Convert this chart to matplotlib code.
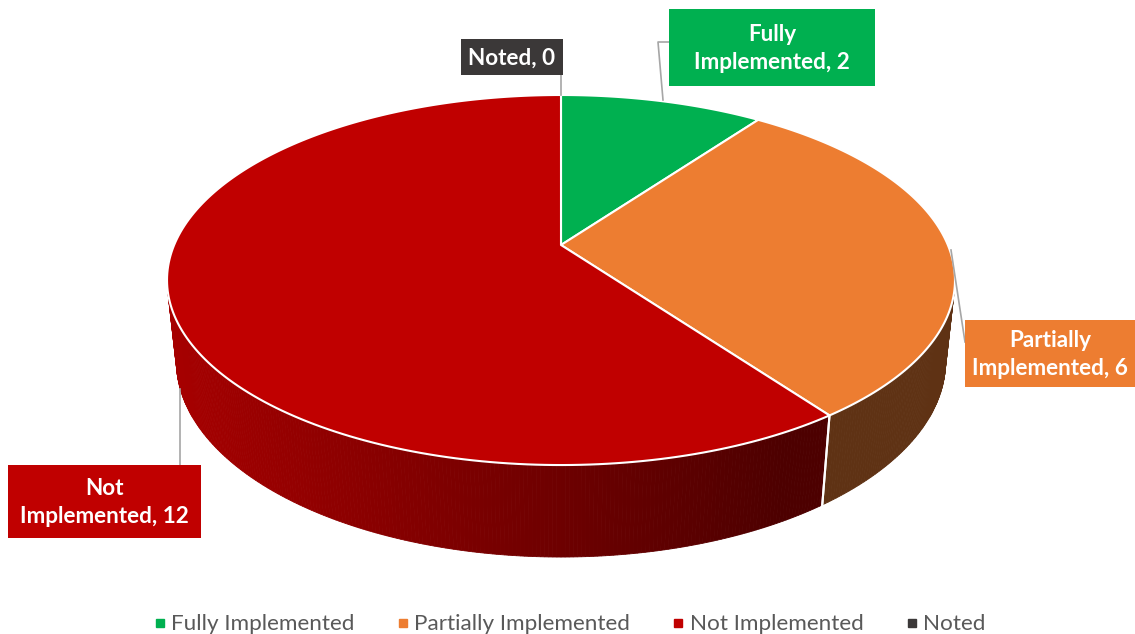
import numpy as np
import matplotlib
matplotlib.use('Agg')
import matplotlib.pyplot as plt
from matplotlib.patches import Polygon, Rectangle
from matplotlib.lines import Line2D
from matplotlib.colors import to_rgb

categories = ['Fully Implemented', 'Partially Implemented', 'Not Implemented', 'Noted']
values = [2, 6, 12, 0]
colors = ['#00B050', '#ED7D31', '#C00000', '#3B3838']
label_lines = ['Fully\nImplemented, {}', 'Partially\nImplemented, {}',
               'Not\nImplemented, {}', 'Noted, {}']

plt.rcParams['font.family'] = ['Lato', 'DejaVu Sans']

W, H = 1135, 634
fig = plt.figure(figsize=(W / 100, H / 100), dpi=100)
ax = fig.add_axes([0, 0, 1, 1])
ax.set_xlim(0, W)
ax.set_ylim(H, 0)
ax.axis('off')

# perspective projection of a flat cylinder
CX, CY = 561, 245
F = 1813.6
D = 4.688
phi = np.radians(27.46)
T = 0.2386
c, s = np.cos(phi), np.sin(phi)


def proj(theta, r=1.0, h=0.0):
    u = r * np.sin(theta)
    v = r * np.cos(theta)
    depth = D + v * c - h * s
    x = CX + F * u / depth
    y = CY - F * (v * s + h * c) / depth
    return x, y


def shade(x):
    return np.clip(0.86 - 0.485 * (x - 175) / 645, 0.4, 0.9)


total = float(sum(values))
bounds = np.concatenate([[0], np.cumsum(values)]) / total * 2 * np.pi

# side walls (only parts facing the viewer)
cos_lim = -1.0 / (D * c)
for i, col in enumerate(colors):
    a0, a1 = bounds[i], bounds[i + 1]
    if a1 - a0 <= 0:
        continue
    n = max(2, int((a1 - a0) / np.radians(0.5)))
    th = np.linspace(a0, a1, n + 1)
    base = np.array(to_rgb(col))
    for k in range(n):
        t0, t1 = th[k], th[k + 1]
        tm = 0.5 * (t0 + t1)
        if np.cos(tm) >= cos_lim:
            continue
        x0, y0 = proj(t0)
        x1, y1 = proj(t1)
        x2, y2 = proj(t1, h=-T)
        x3, y3 = proj(t0, h=-T)
        f = shade(0.5 * (x0 + x1))
        ax.add_patch(Polygon([[x0, y0], [x1, y1], [x2, y2], [x3, y3]], closed=True,
                             facecolor=base * f, edgecolor=base * f, lw=0.6, zorder=2))
    # white vertical edge at wedge boundaries on the visible side
    for a in (a0, a1):
        if np.cos(a) < cos_lim:
            xa, ya = proj(a)
            xb, yb = proj(a, h=-T)
            ax.plot([xa, xb], [ya, yb], color='white', lw=1.5, zorder=3)

# top faces
for i, col in enumerate(colors):
    a0, a1 = bounds[i], bounds[i + 1]
    if a1 - a0 <= 0:
        continue
    th = np.linspace(a0, a1, 200)
    pts = [proj(0, r=0.0)] + [proj(t) for t in th]
    ax.add_patch(Polygon(pts, closed=True, facecolor=col, edgecolor='white',
                         lw=1.5, joinstyle='round', zorder=4))

# data labels with leader lines
leader = '#A6A6A6'
boxes = {
    0: dict(x=669, y=9, w=206, h=77, lines=[(669, 42), (658, 42), (663, 100)]),
    1: dict(x=965, y=320, w=170, h=67, lines=[(951, 250), (965, 342)]),
    2: dict(x=8, y=465, w=193, h=73, lines=[(180, 389), (180, 465)]),
    3: dict(x=461, y=39, w=102, h=36, lines=[(561, 75), (561, 95)]),
}
for i, b in boxes.items():
    xs, ys = zip(*b['lines'])
    ax.plot(xs, ys, color=leader, lw=1.2, zorder=5)
    ax.add_patch(Rectangle((b['x'], b['y']), b['w'], b['h'], facecolor=colors[i],
                           edgecolor='none', zorder=6))
    ax.text(b['x'] + b['w'] / 2, b['y'] + b['h'] / 2 + 1,
            label_lines[i].format(values[i]), ha='center', va='center',
            color='white', fontsize=16.2, fontweight='bold', linespacing=1.47,
            zorder=7)

handles = [Line2D([], [], marker='s', linestyle='none', markersize=6,
                  markerfacecolor=col, markeredgecolor=col) for col in colors]
fig.legend(handles, categories, loc='center', bbox_to_anchor=(0.5, 1 - 624.5 / H),
           ncol=4, frameon=False, fontsize=16.2, labelcolor='#595959',
           handletextpad=0.05, columnspacing=1.7, handlelength=0.9)

fig.savefig('out.png', dpi=100)
